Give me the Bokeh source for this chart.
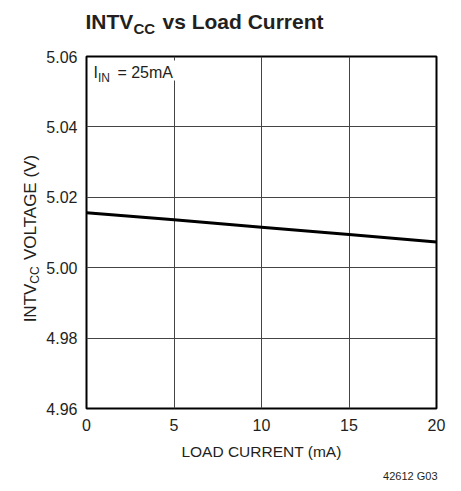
from math import pi
from bokeh.plotting import figure
from bokeh.layouts import column, row
from bokeh.models import Label, Range1d, FixedTicker, BoxAnnotation
from bokeh.embed import file_html
from bokeh.resources import INLINE

# ---- data ----
load_current = [0, 5, 10, 15, 20]
intvcc_voltage = [5.0156, 5.0136, 5.0115, 5.0094, 5.0073]
x_ticks = [0, 5, 10, 15, 20]
y_ticks = [4.96, 4.98, 5.00, 5.02, 5.04, 5.06]
y_tick_labels = ["4.96", "4.98", "5.00", "5.02", "5.04", "5.06"]

X0, X1 = 0, 20
Y0, Y1 = 4.96, 5.06

# ---- geometry (page pixels, page origin = canvas origin) ----
TOTAL_W, TOTAL_H = 459, 489
TOP_H = 48            # title strip
YLAB_W = 43           # y-label strip
MAIN_BOTTOM = 468     # bottom of main figure
F_LEFT, F_RIGHT, F_TOP, F_BOTTOM = 85, 436, 56, 408   # frame in page coords

FONT = "Liberation Sans"
INK = "#231f20"
MID = 0.35  # distance from alphabetic baseline to text middle, in em


def strip(width, height, x0, x1, y_top, y_bottom):
    f = figure(width=width, height=height, output_backend="svg", toolbar_location=None,
               x_axis_type=None, y_axis_type=None,
               x_range=Range1d(x0, x1), y_range=Range1d(y_bottom, y_top),
               min_border=0, min_border_left=0, min_border_right=0,
               min_border_top=0, min_border_bottom=0)
    f.outline_line_color = None
    f.background_fill_color = "white"
    f.border_fill_color = "white"
    return f


def lab(fig, text, x, y, size, style="normal", align="left", angle=0):
    fig.add_layout(Label(x=x, y=y, text=text, text_font=FONT, text_font_size=f"{size}px",
                         text_font_style=style, text_align=align,
                         text_baseline="middle", angle=angle, text_color=INK))


# ---- title strip (data units = page pixels, y grows downward) ----
top = strip(TOTAL_W, TOP_H, 0, TOTAL_W, 0, TOP_H)
lab(top, "INTV", 85, 28.5 - MID * 21, 21, "bold")
lab(top, "CC", 133, 33 - MID * 15, 15, "bold")
lab(top, "vs Load Current", 162, 28.5 - MID * 21, 21, "bold")

# ---- y-label strip: the row aligns its frame with the chart frame (page y 56..408) ----
STRIP_H = MAIN_BOTTOM - TOP_H
ylab = strip(YLAB_W, STRIP_H, 0, YLAB_W, F_TOP, F_BOTTOM)
cx = 30
lab(ylab, "INTV", cx, 302.5, 17, align="center", angle=pi / 2)
lab(ylab, "CC", cx + 4, 274.5, 12, align="center", angle=pi / 2)
lab(ylab, "VOLTAGE (V)", cx, 207, 17, align="center", angle=pi / 2)

# ---- main chart ----
MAIN_W = TOTAL_W - YLAB_W
p = figure(width=MAIN_W, height=STRIP_H, output_backend="svg", toolbar_location=None,
           x_range=Range1d(X0, X1), y_range=Range1d(Y0, Y1),
           min_border_left=F_LEFT - YLAB_W, min_border_right=TOTAL_W - F_RIGHT,
           min_border_top=F_TOP - TOP_H, min_border_bottom=MAIN_BOTTOM - F_BOTTOM)
p.background_fill_color = "white"
p.border_fill_color = "white"
p.outline_line_color = "black"
p.outline_line_width = 2

for ax in (p.xaxis[0], p.yaxis[0]):
    ax.axis_line_color = None
    ax.major_tick_line_color = None
    ax.minor_tick_line_color = None
    ax.major_tick_out = 0
    ax.major_tick_in = 0
    ax.minor_tick_out = 0
    ax.minor_tick_in = 0
    ax.major_label_text_font = FONT
    ax.major_label_text_font_size = "16px"
    ax.major_label_text_color = INK

p.xaxis.ticker = FixedTicker(ticks=x_ticks)
p.yaxis.ticker = FixedTicker(ticks=y_ticks)
p.yaxis.major_label_overrides = {t: s for t, s in zip(y_ticks, y_tick_labels)}
p.xaxis.major_label_standoff = 10
p.yaxis.major_label_standoff = 9

p.xaxis.axis_label = "LOAD CURRENT (mA)"
p.xaxis.axis_label_text_font = FONT
p.xaxis.axis_label_text_font_style = "normal"
p.xaxis.axis_label_text_font_size = "15.5px"
p.xaxis.axis_label_text_color = INK
p.xaxis.axis_label_standoff = 9

p.xgrid.ticker = FixedTicker(ticks=x_ticks)
p.ygrid.ticker = FixedTicker(ticks=y_ticks)
for g in (p.xgrid[0], p.ygrid[0]):
    g.grid_line_color = "#444444"
    g.grid_line_width = 1

p.line(load_current, intvcc_voltage, line_color="black", line_width=3)


def px_x(page_x):
    return X0 + (page_x - F_LEFT) / (F_RIGHT - F_LEFT) * (X1 - X0)


def px_y(page_y):
    return Y1 - (page_y - F_TOP) / (F_BOTTOM - F_TOP) * (Y1 - Y0)


# white box behind the I_IN note
p.add_layout(BoxAnnotation(left=px_x(86.5), right=px_x(176), top=px_y(60), bottom=px_y(80),
                           fill_color="white", fill_alpha=1, line_color=None))
lab(p, "I", px_x(92), px_y(78 - MID * 16), 16)
lab(p, "IN", px_x(96.5), px_y(82 - MID * 12), 12)
lab(p, "= 25mA", px_x(116), px_y(78 - MID * 16), 16)

# ---- footnote strip ----
bot = strip(TOTAL_W, TOTAL_H - MAIN_BOTTOM, 0, TOTAL_W, MAIN_BOTTOM, TOTAL_H)
lab(bot, "42612 G03", 437, 479 - MID * 11, 11, align="right")

layout = column(top, row(ylab, p), bot)
open("out.html", "w").write(file_html(layout, INLINE))
